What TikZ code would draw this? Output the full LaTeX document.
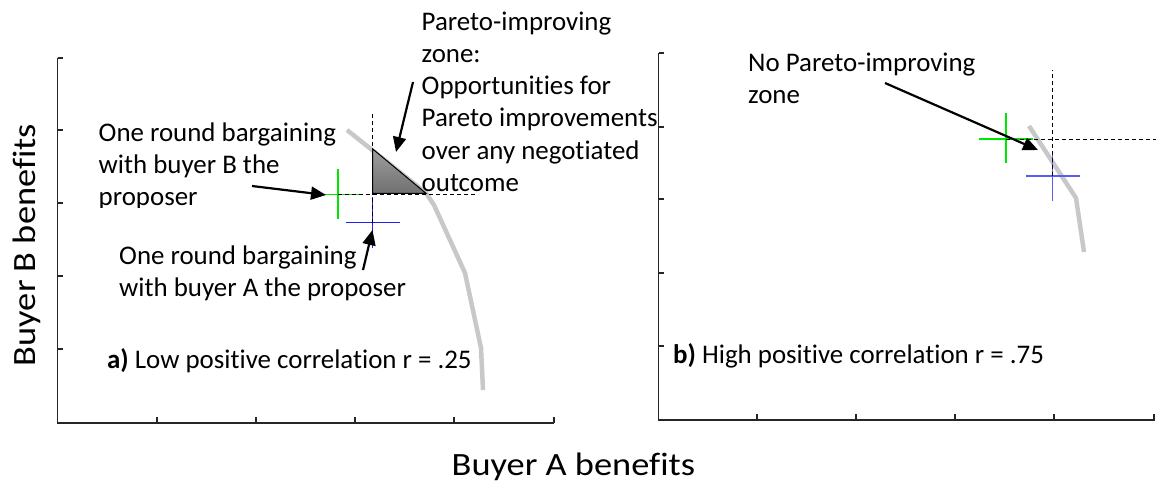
\documentclass[tikz,border=0pt]{standalone}
\usepackage{fontspec}
\usepackage{graphicx}
\setmainfont{Carlito}[Ligatures={NoCommon,NoContextual}]
\usetikzlibrary{arrows.meta}
\definecolor{frontiergray}{HTML}{C8C8C8}
\definecolor{crossgreen}{HTML}{00E600}
\definecolor{crossblue}{HTML}{2020F0}
\definecolor{crossblueb}{HTML}{5A5AF5}
\definecolor{axisgray}{HTML}{262626}
\newcommand\notestrut{\rule{0pt}{22pt}}
\begin{document}
\begin{tikzpicture}[x=1pt,y=-1pt,
  axisline/.style={draw=axisgray, line width=1.3pt},
  tickmark/.style={draw=axisgray, line width=1.1pt},
  frontier/.style={draw=frontiergray, line width=4.5pt, line join=round},
  guide/.style={draw=black, line width=0.9pt, dash pattern=on 4pt off 3pt},
  plusgreen/.style={draw=crossgreen, line width=1.3pt},
  plusblue/.style={draw=crossblue, line width=1.3pt},
  plusblueb/.style={draw=crossblueb, line width=1.3pt},
  callout/.style={draw=black, line width=2.2pt, -{Triangle[length=15pt,width=13pt]}},
  note/.style={inner sep=0pt, align=left, font=\fontsize{26.9}{32.2}\selectfont},
  axislabel/.style={inner sep=0pt, font=\fontsize{32.5}{38}\selectfont},
]
\useasboundingbox (0,0) rectangle (1156,484);

% ---------- panel a: axes ----------
\coordinate (aTop) at (57.5,58);
\coordinate (aO) at (57.5,423);
\coordinate (aRight) at (554,423);
\draw[axisline] (aTop) -- (aO) -- (aRight);
\foreach \y in {58,130,203,276,349} \draw[tickmark] (57.5,\y) -- (63,\y);
\foreach \x in {157,256,355,454,554} \draw[tickmark] (\x,423) -- (\x,417);

% frontier a
\draw[frontier] (347,130) -- (426,193) -- (434,205) -- (465,273) -- (481,348) -- (483,390);

% bargaining outcomes a
\coordinate (aG) at (338,194.3);
\coordinate (aB) at (372.7,222.7);
\draw[plusgreen] (313,194.3) -- (363,194.3) (338,169) -- (338,219);
\draw[plusblue] (346,222.7) -- (399.5,222.7) (372.7,197) -- (372.7,248);

% guide lines a
\coordinate (aVtop) at (372.7,113);
\coordinate (aHend) at (476,194.3);
\draw[guide] (aB) -- (aVtop);
\draw[guide] (aG) -- (aHend);

% Pareto-improving zone
\filldraw[draw=black, line width=1pt, top color=black!38, bottom color=black!56]
  (372.7,149) -- (372.7,193.3) -- (426,193.3) -- cycle;

% callouts a
\coordinate (bpTail) at (252,186);
\coordinate (bpTip) at (326,195);
\coordinate (apTail) at (363,270);
\coordinate (apTip) at (372.5,230);
\coordinate (pzTail) at (413,82);
\coordinate (pzTip) at (396,152);
\draw[callout] (bpTail) -- (bpTip);
\draw[callout] (apTail) -- (apTip);
\draw[callout] (pzTail) -- (pzTip);

% texts a
\node[note, anchor=north west] (pzText) at (421.5,8)
  {\notestrut Pareto-improving\\zone:\\Opportunities for\\Pareto improvements\\over any negotiated\\outcome};
\begin{scope}
  \clip (0,0) rectangle (420,207);
  \node[note, anchor=north west] (bpText) at (98.5,119)
    {\notestrut One round bargaining\\with buyer B the\\proposer};
\end{scope}
\node[note, anchor=north west] (apText) at (119,242)
  {\notestrut One round bargaining\\with buyer A the proposer};
\node[note, anchor=base west] (aCap) at (107,368)
  {\textbf{a)} Low positive correlation r = .25};

% ---------- panel b: axes ----------
\coordinate (bTop) at (658.5,53);
\coordinate (bO) at (658.5,420);
\coordinate (bRight) at (1155,420);
\draw[axisline] (bTop) -- (bO) -- (bRight);
\foreach \y in {53,127,199,273,346} \draw[tickmark] (658.5,\y) -- (664,\y);
\foreach \x in {757,856,955,1054,1154} \draw[tickmark] (\x,420) -- (\x,414);

% frontier b
\draw[frontier] (1029,126) -- (1076,198) -- (1084,252);

% bargaining outcomes b
\coordinate (bG) at (1006,139);
\coordinate (bB) at (1052.5,176);
\draw[plusgreen] (979,139) -- (1033,139) (1006,113) -- (1006,163);
\draw[plusblueb] (1026,176) -- (1080,176) (1052.5,151) -- (1052.5,201);

% guide lines b
\coordinate (bVtop) at (1052.5,70);
\coordinate (bHend) at (1156,139);
\draw[guide] (bB) -- (bVtop);
\draw[guide] (bG) -- (bHend);

% callout b
\coordinate (npTail) at (885,83);
\coordinate (npTip) at (1038,150);
\draw[callout] (npTail) -- (npTip);

% texts b
\node[note, anchor=north west] (npText) at (748,49.5)
  {\notestrut No Pareto-improving\\zone};
\node[note, anchor=base west] (bCap) at (673,363)
  {\textbf{b)} High positive correlation r = .75};

% ---------- shared axis titles ----------
\node[axislabel, anchor=base west] (xTitle) at (451.5,475)
  {\scalebox{1.12}[1]{Buyer A benefits}};
\node[axislabel, rotate=90, anchor=base] (yTitle) at (35,245)
  {\scalebox{1.12}[1]{Buyer B benefits}};
\end{tikzpicture}
\end{document}
